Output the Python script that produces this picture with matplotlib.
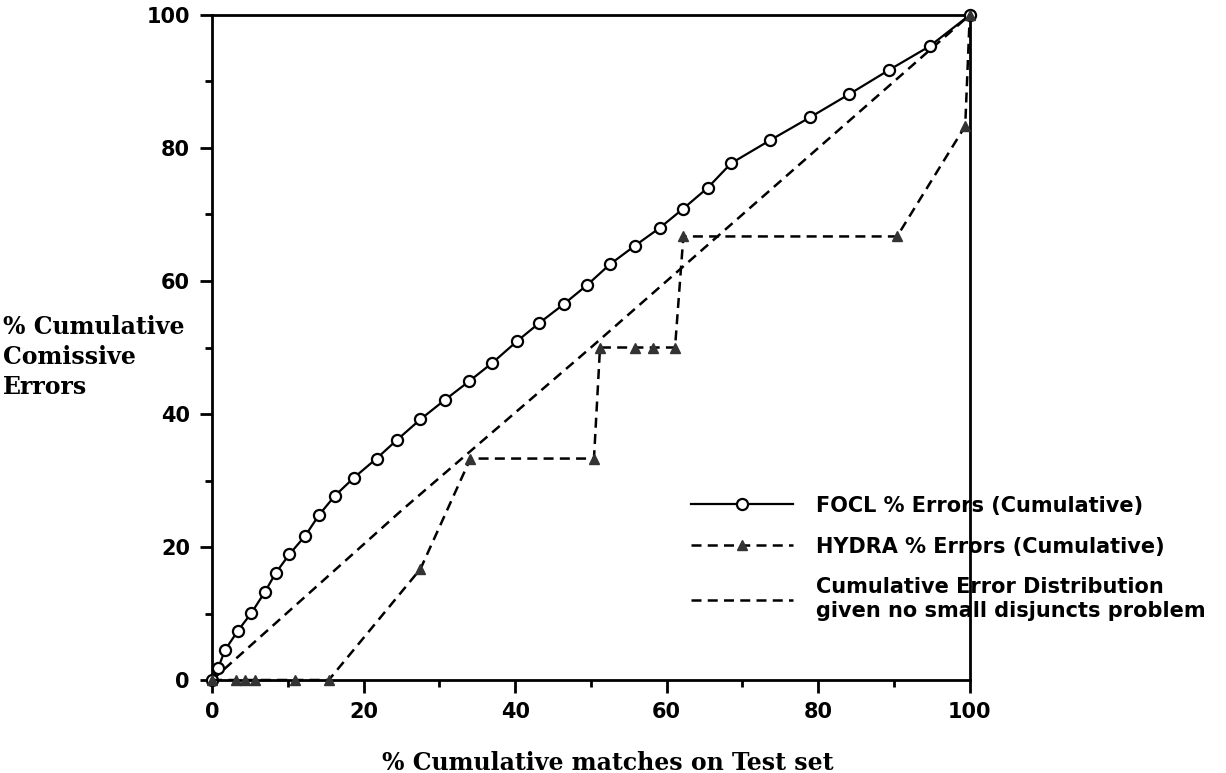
import matplotlib
matplotlib.use("Agg")
import matplotlib.pyplot as plt
from matplotlib.ticker import MultipleLocator

# FOCL cumulative errors (open circles)
focl_x = [0, 0.8, 1.7, 3.4, 5.2, 7.0, 8.4, 10.2, 12.3, 14.1, 16.2, 18.7, 21.7, 24.4,
          27.5, 30.7, 33.9, 37.0, 40.3, 43.2, 46.4, 49.5, 52.5, 55.8, 59.1, 62.1,
          65.4, 68.5, 73.7, 78.9, 84.1, 89.3, 94.7, 100]
focl_y = [0, 1.8, 4.5, 7.4, 10.1, 13.3, 16.1, 18.9, 21.7, 24.8, 27.7, 30.4, 33.3, 36.1,
          39.2, 42.1, 44.9, 47.7, 51.0, 53.7, 56.5, 59.4, 62.5, 65.3, 68.0, 70.8,
          74.0, 77.7, 81.2, 84.6, 88.1, 91.7, 95.3, 100]

# HYDRA cumulative errors (triangles)
hydra_x = [0, 3.1, 4.4, 5.7, 11.0, 15.4, 27.5, 34.1, 50.4, 51.2, 55.8, 58.2, 61.1,
           62.2, 90.4, 99.4, 100]
hydra_y = [0, 0, 0, 0, 0, 0, 16.7, 33.3, 33.3, 50, 50, 50, 50, 66.7, 66.7, 83.3, 100]

# reference distribution (no small disjuncts problem)
ref_x = [0, 25, 50, 75, 100]
ref_y = [0, 25.5, 50, 75, 100]

x_ticks = [0, 20, 40, 60, 80, 100]
y_ticks = [0, 20, 40, 60, 80, 100]

fig = plt.figure(figsize=(12.26, 7.73), dpi=100, facecolor="white")
ax = fig.add_axes([0.173, 0.1203, 0.618, 0.8603])

ax.plot(focl_x, focl_y, "-", color="black", lw=1.6, marker="o", ms=8,
        mfc="white", mec="black", mew=1.6, label="FOCL % Errors (Cumulative)",
        zorder=4, clip_on=False)
ax.plot(hydra_x, hydra_y, color="black", lw=1.8, ls=(0, (4, 2.5)), marker="^", ms=7,
        mfc="#333333", mec="#333333", label="HYDRA % Errors (Cumulative)",
        zorder=5, clip_on=False)
ax.plot(ref_x, ref_y, color="black", lw=1.8, ls=(0, (4, 2.5)),
        label="Cumulative Error Distribution\ngiven no small disjuncts problem",
        zorder=2, clip_on=False)

ax.set_xlim(0, 100)
ax.set_ylim(0, 100)
ax.set_xticks(x_ticks)
ax.set_yticks(y_ticks)
ax.xaxis.set_minor_locator(MultipleLocator(10))
ax.yaxis.set_minor_locator(MultipleLocator(10))
ax.tick_params(which="major", direction="out", length=9, width=2, pad=7,
               labelsize=15)
ax.tick_params(which="minor", direction="out", length=5, width=2)
for lab in ax.get_xticklabels() + ax.get_yticklabels():
    lab.set_fontweight("bold")
for s in ax.spines.values():
    s.set_linewidth(2)

ax.set_xlabel("% Cumulative matches on Test set", fontsize=17,
              fontfamily="DejaVu Serif", fontweight="bold", va="center")
ax.xaxis.set_label_coords(0.522, -0.125)
ax.set_ylabel("% Cumulative\nComissive\nErrors", fontsize=17, rotation=0,
              fontfamily="DejaVu Serif", fontweight="bold", ha="left", va="center",
              multialignment="left", linespacing=1.3)
ax.yaxis.set_label_coords(-0.276, 0.486)

leg = ax.legend(loc="upper left", bbox_to_anchor=(672 / 1226, 1 - 477 / 773),
                bbox_transform=fig.transFigure, frameon=False, numpoints=1,
                handlelength=4.9, handletextpad=1.1, labelspacing=1.0,
                prop={"size": 15, "weight": "bold"})

fig.savefig("out.png", dpi=100)
